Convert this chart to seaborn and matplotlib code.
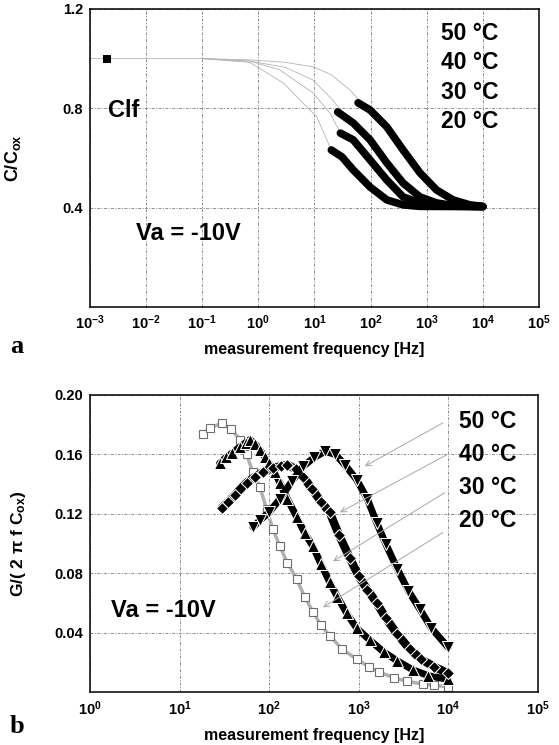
import numpy as np
import pandas as pd
import matplotlib
matplotlib.use("Agg")
import matplotlib.pyplot as plt
from matplotlib.ticker import FixedLocator, LogLocator, NullFormatter
import seaborn as sns

# ---------------- panel a: C/Cox vs frequency ----------------
temps = ["50 °C", "40 °C", "30 °C", "20 °C"]

# measured C/Cox
c50_f = [60, 98, 195, 380, 760, 1500, 2950, 5900, 10000]
c50_v = [0.822, 0.793, 0.725, 0.632, 0.540, 0.471, 0.431, 0.411, 0.405]
c40_f = [26, 49, 98, 195, 380, 760, 1500, 2950, 10000]
c40_v = [0.785, 0.741, 0.673, 0.580, 0.499, 0.443, 0.419, 0.408, 0.404]
c30_f = [29, 49, 98, 195, 380, 760, 1500, 10000]
c30_v = [0.700, 0.673, 0.592, 0.511, 0.443, 0.419, 0.407, 0.404]
c20_f = [20, 31, 49, 98, 195, 380, 760, 10000]
c20_v = [0.632, 0.604, 0.552, 0.483, 0.431, 0.411, 0.405, 0.404]

# simulated C/Cox (thin grey)
s50_f = [0.001, 0.1, 0.7, 3, 9.4, 20, 43, 70]
s50_v = [1.0, 1.0, 0.995, 0.985, 0.967, 0.935, 0.874, 0.82]
s40_f = [0.1, 0.7, 3, 9.4, 21, 30]
s40_v = [1.0, 0.99, 0.965, 0.914, 0.834, 0.79]
s30_f = [0.1, 0.7, 2.4, 9.4, 19, 29]
s30_v = [1.0, 0.99, 0.955, 0.862, 0.78, 0.70]
s20_f = [0.1, 0.7, 2.8, 11, 20]
s20_v = [1.0, 0.985, 0.902, 0.765, 0.632]

# quasi-static low-frequency value
clf_f = [0.002]
clf_v = [1.0]

# ---------------- panel b: G/(2 pi f Cox) vs frequency ----------------
g20_f = [18.3, 22, 29.6, 38, 47, 56, 66, 79, 94, 110, 132, 160, 203, 250, 309,
         380, 475, 650, 954, 1300, 1700, 2500, 3500, 5200, 7000, 10000]
g20_v = [0.174, 0.178, 0.181, 0.177, 0.170, 0.160, 0.148, 0.138, 0.123, 0.110,
         0.098, 0.087, 0.076, 0.064, 0.054, 0.045, 0.038, 0.029, 0.022, 0.017,
         0.0134, 0.0095, 0.0072, 0.0054, 0.0045, 0.0036]
g30_f = [28, 33, 39, 47, 55, 61, 70, 79, 90, 100, 115, 132, 160, 203, 250, 309,
         380, 475, 580, 735, 950, 1330, 1900, 2700, 4000, 6000, 10000]
g30_v = [0.154, 0.158, 0.161, 0.165, 0.168, 0.170, 0.167, 0.163, 0.158, 0.154,
         0.148, 0.141, 0.130, 0.118, 0.107, 0.098, 0.086, 0.074, 0.064, 0.053,
         0.043, 0.035, 0.027, 0.021, 0.015, 0.011, 0.0085]
g40_f = [29.6, 35, 42, 56, 70, 85, 110, 135, 160, 200, 240, 300, 380, 475, 600,
         800, 1000, 1250, 1590, 2000, 2700, 3700, 5000, 7000, 10000]
g40_v = [0.124, 0.128, 0.133, 0.141, 0.145, 0.148, 0.151, 0.152, 0.153, 0.150,
         0.145, 0.137, 0.128, 0.121, 0.106, 0.090, 0.078, 0.069, 0.060, 0.050,
         0.039, 0.029, 0.022, 0.017, 0.0125]
g50_f = [66, 80, 100, 132, 180, 240, 320, 420, 550, 700, 950, 1250, 1590, 2000,
         2700, 3600, 4800, 6500, 10000]
g50_v = [0.111, 0.116, 0.121, 0.130, 0.142, 0.152, 0.158, 0.162, 0.160, 0.153,
         0.143, 0.130, 0.114, 0.100, 0.083, 0.068, 0.056, 0.043, 0.030]

top_yticks = [0.4, 0.8, 1.2]
bot_yticks = [0.04, 0.08, 0.12, 0.16, 0.20]

# ---------------- style ----------------
sns.set_style("white")
plt.rcParams["font.family"] = ["Liberation Sans", "DejaVu Sans"]
plt.rcParams["font.weight"] = "bold"
plt.rcParams["text.color"] = "black"
plt.rcParams["axes.labelcolor"] = "black"
plt.rcParams["xtick.color"] = "black"
plt.rcParams["ytick.color"] = "black"
plt.rcParams["mathtext.fontset"] = "custom"
plt.rcParams["mathtext.rm"] = "Liberation Sans:bold"
plt.rcParams["mathtext.bf"] = "Liberation Sans:bold"
plt.rcParams["mathtext.it"] = "Liberation Sans:bold"
plt.rcParams["mathtext.default"] = "bf"

GRID = dict(color="#8c8c8c", linestyle=(0, (3, 1.5, 1, 1.5)), linewidth=0.7)


def frame(ax, lo, hi, yticks, yfmt):
    ax.set_xscale("log")
    ax.set_xlim(10.0 ** lo, 10.0 ** hi)
    ax.xaxis.set_major_locator(FixedLocator([10.0 ** k for k in range(lo, hi + 1)]))
    ax.set_xticklabels([r"$10^{%d}$" % k for k in range(lo, hi + 1)])
    ax.xaxis.set_minor_locator(LogLocator(base=10, subs=np.arange(2, 10), numticks=200))
    ax.xaxis.set_minor_formatter(NullFormatter())
    ax.set_yticks(yticks)
    ax.set_yticklabels([yfmt % t for t in yticks])
    ax.tick_params(which="major", direction="in", length=4, width=0.8,
                   labelsize=10.5, pad=5, colors="black")
    ax.tick_params(which="minor", direction="in", length=2.5, width=0.6)
    for lab in ax.get_xticklabels() + ax.get_yticklabels():
        lab.set_fontweight("bold")
    for s in ax.spines.values():
        s.set_color("black")
        s.set_linewidth(1.1)
    ax.grid(True, which="major", **GRID)
    ax.set_axisbelow(True)


def series(f, v):
    return pd.DataFrame({"f": f, "v": v})


fig = plt.figure(figsize=(5.59, 7.45), dpi=100)

# ---- panel a ----
ax1 = fig.add_axes([0.161, 0.588, 0.803, 0.400])
ax1.set_ylim(0, 1.2)
frame(ax1, -3, 5, top_yticks, "%.1f")

for f, v in [(s50_f, s50_v), (s40_f, s40_v), (s30_f, s30_v), (s20_f, s20_v)]:
    sns.lineplot(data=series(f, v), x="f", y="v", ax=ax1, color="#b4b4b4",
                 lw=0.6, estimator=None, sort=False)
for f, v in [(c50_f, c50_v), (c40_f, c40_v), (c30_f, c30_v), (c20_f, c20_v)]:
    sns.lineplot(data=series(f, v), x="f", y="v", ax=ax1, color="black",
                 lw=5.5, estimator=None, sort=False, solid_capstyle="round")
sns.scatterplot(data=series(clf_f, clf_v), x="f", y="v", ax=ax1, marker="s",
                color="black", s=28, linewidth=0, zorder=5)

ax1.text(0.076, 0.658, "Clf", transform=ax1.transAxes, fontsize=17,
         fontweight="bold", ha="center", va="center")
ax1.text(0.220, 0.245, "Va = -10V", transform=ax1.transAxes, fontsize=17,
         fontweight="bold", ha="center", va="center")
for lbl, yy in zip(temps, [0.919, 0.819, 0.721, 0.621]):
    ax1.text(0.782, yy, lbl, transform=ax1.transAxes, fontsize=16.5,
             fontweight="bold", ha="left", va="center")

ax1.set_xlabel("measurement frequency [Hz]", fontsize=11.5, fontweight="bold")
ax1.set_ylabel(r"C/C$_{ox}$", fontsize=13, fontweight="bold")
ax1.xaxis.set_label_coords(0.5, -0.117)
ax1.yaxis.set_label_coords(-0.149, 0.5)

# ---- panel b ----
ax2 = fig.add_axes([0.161, 0.0711, 0.801, 0.3987])
ax2.set_ylim(0, 0.2)
frame(ax2, 0, 5, bot_yticks, "%.2f")

sns.lineplot(data=series(g20_f, g20_v), x="f", y="v", ax=ax2, color="#b0b0b0",
             lw=2.5, marker="s", markersize=6, markerfacecolor="white",
             markeredgecolor="#6e6e6e", markeredgewidth=0.8,
             estimator=None, sort=False)
sns.lineplot(data=series(g30_f, g30_v), x="f", y="v", ax=ax2, color="black",
             lw=5, marker="^", markersize=8, estimator=None, sort=False)
sns.lineplot(data=series(g40_f, g40_v), x="f", y="v", ax=ax2, color="black",
             lw=6, marker="D", markersize=6, estimator=None, sort=False)
sns.lineplot(data=series(g50_f, g50_v), x="f", y="v", ax=ax2, color="black",
             lw=5, marker="v", markersize=8, estimator=None, sort=False)

ax2.text(0.163, 0.273, "Va = -10V", transform=ax2.transAxes, fontsize=17,
         fontweight="bold", ha="center", va="center")
label_y = [0.912, 0.801, 0.687, 0.576]
for lbl, yy in zip(temps, label_y):
    ax2.text(0.824, yy, lbl, transform=ax2.transAxes, fontsize=16.5,
             fontweight="bold", ha="left", va="center")

# pointers from the temperature labels to their curves
arrow_tips = [(1170, 0.152), (617, 0.121), (517, 0.088), (400, 0.057)]
arrow_tails = [(0.788, 0.906), (0.797, 0.799), (0.792, 0.671), (0.788, 0.537)]
for tip, tail in zip(arrow_tips, arrow_tails):
    ax2.annotate("", xy=tip, xycoords="data", xytext=tail,
                 textcoords="axes fraction",
                 arrowprops=dict(arrowstyle="->", color="#a8a8a8", lw=0.7,
                                 shrinkA=0, shrinkB=0))

ax2.set_xlabel("measurement frequency [Hz]", fontsize=11.5, fontweight="bold")
ax2.set_ylabel(r"G/( 2 π f C$_{ox}$)", fontsize=12.5, fontweight="bold")
ax2.xaxis.set_label_coords(0.5, -0.121)
ax2.yaxis.set_label_coords(-0.138, 0.5)

# panel letters
fig.text(0.018, 0.526, "a", family=["Liberation Serif", "DejaVu Serif"],
         fontsize=19, fontweight="bold", ha="left", va="baseline")
fig.text(0.018, 0.016, "b", family=["Liberation Serif", "DejaVu Serif"],
         fontsize=19, fontweight="bold", ha="left", va="baseline")

fig.savefig("out.png", dpi=100)
